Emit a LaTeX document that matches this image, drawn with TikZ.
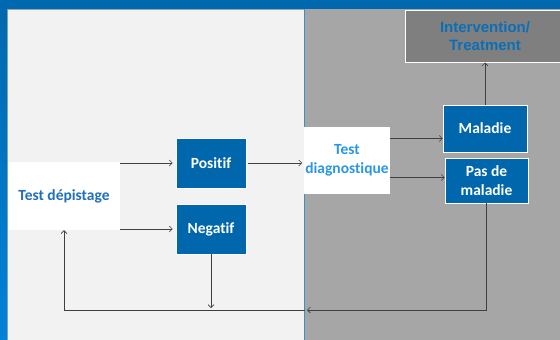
\documentclass[tikz,border=0pt]{standalone}
\usepackage{fontspec}
\setmainfont{Carlito}[Ligatures=NoCommon]
\newfontfamily\arialfont{Liberation Sans}
\usetikzlibrary{arrows.meta}
\definecolor{bandblue}{HTML}{0068AE}
\definecolor{stripbot}{HTML}{0082D8}
\definecolor{boxblue}{HTML}{0067AC}
\definecolor{panellight}{HTML}{F2F2F2}
\definecolor{panelgray}{HTML}{A6A6A6}
\definecolor{panelline}{HTML}{8FAAB0}
\definecolor{divblue}{HTML}{3E8FC8}
\definecolor{linegray}{HTML}{3F3F3F}
\definecolor{textblue}{HTML}{1F70BE}
\definecolor{textlight}{HTML}{2A96E6}
\definecolor{intervgray}{HTML}{7F7F7F}
\definecolor{intervtext}{HTML}{0B6FB8}
\tikzstyle{etat} = [draw=white, fill=boxblue, text=white, align=center, inner sep=1pt, line width=0.8pt, font=\bfseries\fontsize{15.5}{18.5}\selectfont]
\tikzstyle{test} = [fill=white, align=center, inner sep=1pt, font=\bfseries\fontsize{15.5}{19.5}\selectfont]
\tikzstyle{interv} = [draw=white, fill=intervgray, text=intervtext, align=center, line width=1pt, font=\arialfont\bfseries\fontsize{15}{18}\selectfont]
\tikzstyle{fleche} = [draw=linegray, line width=0.6pt, -{Straight Barb[length=3pt,width=6pt]}]

\begin{document}
\begin{tikzpicture}[x=1pt, y=-1pt]
    \useasboundingbox (0,0) rectangle (560,340);
    % fond
    \fill[panelgray] (304,0) rectangle (560,340);
    \filldraw[fill=panellight, draw=panelline, line width=0.8pt] (7,9) rectangle (304,345);
    \draw[divblue, line width=0.8pt] (304,9) -- (304,340);
    \fill[bandblue] (0,0) rectangle (560,9);
    \shade[top color=bandblue, bottom color=stripbot] (0,0) rectangle (7,340);
    % noeuds
    \node[test, text=textblue, minimum width=112, minimum height=68] (depist) at (64,196) {Test dépistage};
    \node[etat, minimum width=70, minimum height=50] (positif) at (211,163) {Positif};
    \node[etat, minimum width=70, minimum height=50] (negatif) at (211,229) {Negatif};
    \node[test, text=textlight, minimum width=84, minimum height=67] (diag) at (347,160.5) {Test\\diagnostique};
    \node[etat, minimum width=84, minimum height=47] (maladie) at (485,128.5) {Maladie};
    \node[etat, minimum width=83, minimum height=45] (pasmal) at (486.5,180.5) {Pas de\\maladie};
    \node[interv, minimum width=160, minimum height=52] (soin) at (485,36) {Intervention/\\Treatment};
    \coordinate (retour) at (305,310);
    % fleches
    \draw[fleche] (depist.east |- positif.west) -- ([xshift=-3pt]positif.west);
    \draw[fleche] (depist.east |- negatif.west) -- ([xshift=-3pt]negatif.west);
    \draw[fleche] ([xshift=2pt]positif.east) -- ([xshift=-2pt]diag.west |- positif.east);
    \draw[fleche] ([yshift=22pt]diag.east) -- ([yshift=22pt]diag.east -| maladie.west);
    \draw[fleche] ([yshift=-17pt]diag.east) -- ([yshift=-17pt]diag.east -| pasmal.west);
    \draw[fleche] (maladie.north) -- (soin.south);
    \draw[fleche] (pasmal.south) |- ([xshift=2pt]retour);
    \draw[fleche] (retour) -| (depist.south);
    \draw[fleche] (negatif.south) -- ([yshift=2pt]negatif.south |- retour);
\end{tikzpicture}
\end{document}
